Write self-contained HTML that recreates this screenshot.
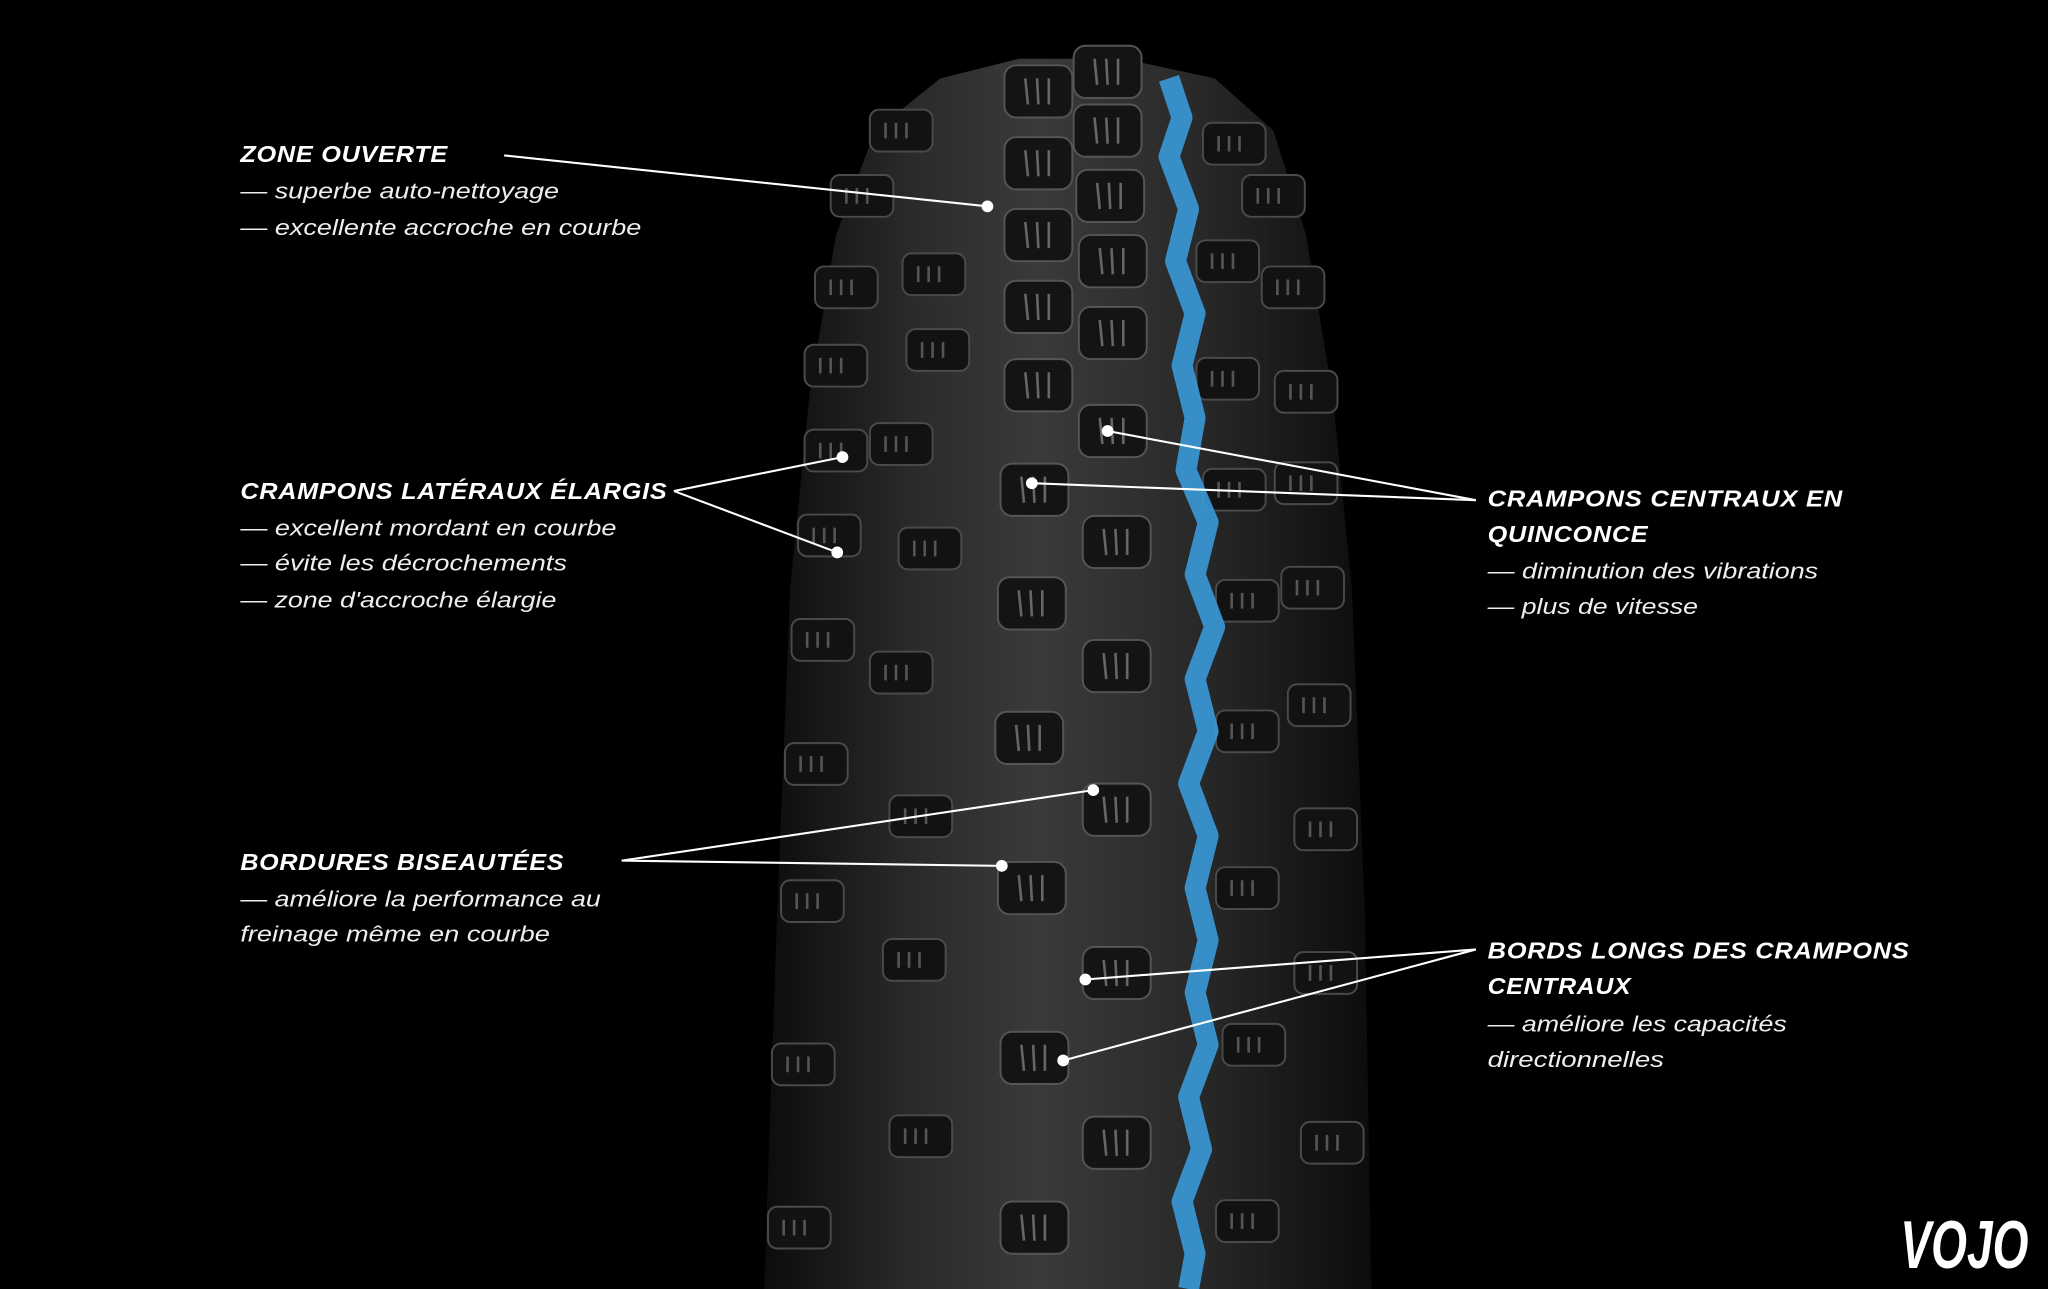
<!DOCTYPE html>
<html><head><meta charset="utf-8">
<style>
html,body{margin:0;padding:0;background:#000;}
svg{display:block;}
.h{font-family:"Liberation Sans",sans-serif;font-weight:bold;font-style:italic;font-size:17.5px;fill:#fff;letter-spacing:0.5px;}
.t{font-family:"Liberation Sans",sans-serif;font-style:italic;font-size:17px;fill:#eee;}
</style></head>
<body>
<svg width="2048" height="1289" viewBox="0 0 1568 987" preserveAspectRatio="none" xmlns="http://www.w3.org/2000/svg">
<defs>
<linearGradient id="tg" x1="0" x2="1" y1="0" y2="0">
<stop offset="0" stop-color="#0c0c0c"/>
<stop offset="0.25" stop-color="#2b2b2b"/>
<stop offset="0.45" stop-color="#3a3a3a"/>
<stop offset="0.7" stop-color="#2a2a2a"/>
<stop offset="1" stop-color="#0c0c0c"/>
</linearGradient>
<g id="lug"><rect x="-26" y="-20" width="52" height="40" rx="9" fill="#141414" stroke="#555" stroke-width="1.5"/><path d="M-10 -10 L-8 10 M-1 -10 L0 10 M8 -10 L8 10" stroke="#666" stroke-width="2"/></g>
<g id="slug"><rect x="-24" y="-16" width="48" height="32" rx="7" fill="#121212" stroke="#4a4a4a" stroke-width="1.5"/><path d="M-12 -6 L-12 6 M-4 -6 L-4 6 M4 -6 L4 6" stroke="#555" stroke-width="2"/></g>
</defs>
<rect width="1568" height="987" fill="#000"/>
<path d="M585 987 L595 700 L605 450 L620 300 L640 180 L670 100 L720 60 L780 45 L860 45 L930 60 L975 100 L1000 180 L1020 300 L1035 450 L1045 700 L1050 987 Z" fill="url(#tg)"/>
<use href="#lug" x="795" y="70"/><use href="#lug" x="795" y="125"/><use href="#lug" x="795" y="180"/><use href="#lug" x="795" y="235"/><use href="#lug" x="795" y="295"/><use href="#lug" x="792" y="375"/><use href="#lug" x="790" y="462"/><use href="#lug" x="788" y="565"/><use href="#lug" x="790" y="680"/><use href="#lug" x="792" y="810"/><use href="#lug" x="792" y="940"/>
<use href="#lug" x="848" y="55"/><use href="#lug" x="848" y="100"/><use href="#lug" x="850" y="150"/><use href="#lug" x="852" y="200"/><use href="#lug" x="852" y="255"/><use href="#lug" x="852" y="330"/><use href="#lug" x="855" y="415"/><use href="#lug" x="855" y="510"/><use href="#lug" x="855" y="620"/><use href="#lug" x="855" y="745"/><use href="#lug" x="855" y="875"/>
<use href="#slug" x="690" y="100"/><use href="#slug" x="660" y="150"/><use href="#slug" x="715" y="210"/><use href="#slug" x="648" y="220"/><use href="#slug" x="718" y="268"/><use href="#slug" x="640" y="280"/><use href="#slug" x="690" y="340"/><use href="#slug" x="640" y="345"/><use href="#slug" x="712" y="420"/><use href="#slug" x="635" y="410"/><use href="#slug" x="630" y="490"/><use href="#slug" x="690" y="515"/><use href="#slug" x="625" y="585"/><use href="#slug" x="705" y="625"/><use href="#slug" x="622" y="690"/><use href="#slug" x="700" y="735"/><use href="#slug" x="615" y="815"/><use href="#slug" x="705" y="870"/><use href="#slug" x="612" y="940"/>
<use href="#slug" x="945" y="110"/><use href="#slug" x="975" y="150"/><use href="#slug" x="940" y="200"/><use href="#slug" x="990" y="220"/><use href="#slug" x="940" y="290"/><use href="#slug" x="1000" y="300"/><use href="#slug" x="945" y="375"/><use href="#slug" x="1000" y="370"/><use href="#slug" x="955" y="460"/><use href="#slug" x="1005" y="450"/><use href="#slug" x="955" y="560"/><use href="#slug" x="1010" y="540"/><use href="#slug" x="955" y="680"/><use href="#slug" x="1015" y="635"/><use href="#slug" x="960" y="800"/><use href="#slug" x="1015" y="745"/><use href="#slug" x="1020" y="875"/><use href="#slug" x="955" y="935"/>
<path d="M895 60 L905 90 L895 120 L910 160 L900 200 L915 240 L905 280 L915 320 L908 360 L925 400 L915 440 L930 480 L915 520 L925 560 L910 600 L925 640 L915 680 L925 720 L915 760 L925 800 L910 840 L920 880 L905 920 L915 960 L910 987" fill="none" stroke="#3a9ad9" stroke-width="16" stroke-linejoin="round" opacity="0.9"/>
<g stroke="#fff" stroke-width="1.6" fill="none">
<line x1="386" y1="119" x2="756" y2="158"/>
<line x1="516" y1="376" x2="645" y2="350"/><line x1="516" y1="376" x2="641" y2="423"/>
<line x1="1130" y1="383" x2="848" y2="330"/><line x1="1130" y1="383" x2="790" y2="370"/>
<line x1="476" y1="659" x2="837" y2="605"/><line x1="476" y1="659" x2="767" y2="663"/>
<line x1="1130" y1="727" x2="831" y2="750"/><line x1="1130" y1="727" x2="814" y2="812"/>
</g>
<g fill="#fff">
<circle cx="756" cy="158" r="4.5"/><circle cx="645" cy="350" r="4.5"/><circle cx="641" cy="423" r="4.5"/><circle cx="848" cy="330" r="4.5"/><circle cx="790" cy="370" r="4.5"/><circle cx="837" cy="605" r="4.5"/><circle cx="767" cy="663" r="4.5"/><circle cx="831" cy="750" r="4.5"/><circle cx="814" cy="812" r="4.5"/>
</g>
<text class="h" x="184" y="124" textLength="159" lengthAdjust="spacingAndGlyphs">ZONE OUVERTE</text>
<text class="t" x="184" y="152" textLength="244" lengthAdjust="spacingAndGlyphs">— superbe auto-nettoyage</text>
<text class="t" x="184" y="180" textLength="307" lengthAdjust="spacingAndGlyphs">— excellente accroche en courbe</text>
<text class="h" x="184" y="382" textLength="327" lengthAdjust="spacingAndGlyphs">CRAMPONS LATÉRAUX ÉLARGIS</text>
<text class="t" x="184" y="410" textLength="288" lengthAdjust="spacingAndGlyphs">— excellent mordant en courbe</text>
<text class="t" x="184" y="437" textLength="250" lengthAdjust="spacingAndGlyphs">— évite les décrochements</text>
<text class="t" x="184" y="465" textLength="242" lengthAdjust="spacingAndGlyphs">— zone d'accroche élargie</text>
<text class="h" x="1139" y="388" textLength="272" lengthAdjust="spacingAndGlyphs">CRAMPONS CENTRAUX EN</text>
<text class="h" x="1139" y="415" textLength="123" lengthAdjust="spacingAndGlyphs">QUINCONCE</text>
<text class="t" x="1139" y="443" textLength="253" lengthAdjust="spacingAndGlyphs">— diminution des vibrations</text>
<text class="t" x="1139" y="470" textLength="161" lengthAdjust="spacingAndGlyphs">— plus de vitesse</text>
<text class="h" x="184" y="666" textLength="248" lengthAdjust="spacingAndGlyphs">BORDURES BISEAUTÉES</text>
<text class="t" x="184" y="694" textLength="276" lengthAdjust="spacingAndGlyphs">— améliore la performance au</text>
<text class="t" x="184" y="721" textLength="237" lengthAdjust="spacingAndGlyphs">freinage même en courbe</text>
<text class="h" x="1139" y="734" textLength="323" lengthAdjust="spacingAndGlyphs">BORDS LONGS DES CRAMPONS</text>
<text class="h" x="1139" y="761" textLength="110" lengthAdjust="spacingAndGlyphs">CENTRAUX</text>
<text class="t" x="1139" y="790" textLength="229" lengthAdjust="spacingAndGlyphs">— améliore les capacités</text>
<text class="t" x="1139" y="817" textLength="135" lengthAdjust="spacingAndGlyphs">directionnelles</text>
<text x="1455" y="971" font-family="Liberation Sans, sans-serif" font-weight="bold" font-style="italic" font-size="52" fill="#fff" textLength="98" lengthAdjust="spacingAndGlyphs">VOJO</text>
</svg>
</body></html>
